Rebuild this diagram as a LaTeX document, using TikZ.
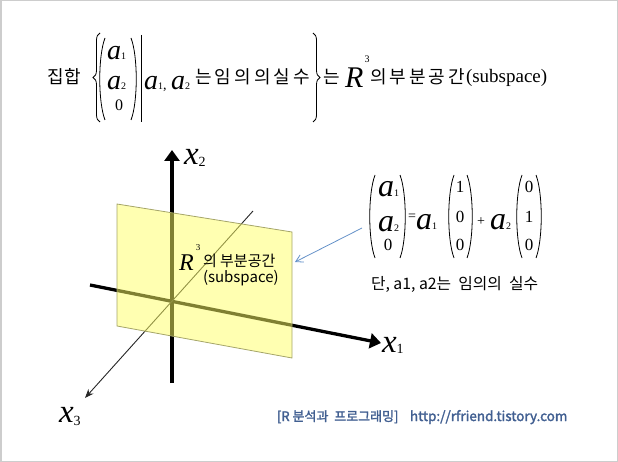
\documentclass[tikz,border=0pt]{standalone}
\usepackage{fontspec}
\setmainfont{Liberation Serif}
\newfontfamily\kr{Noto Sans CJK KR}
\newfontfamily\krb[FakeBold=2]{Noto Sans CJK KR}
\usetikzlibrary{arrows.meta,decorations.pathreplacing}
\definecolor{planefill}{RGB}{255,255,100}
\definecolor{planeedge}{RGB}{165,165,105}
\definecolor{arrowblue}{RGB}{100,145,200}
\definecolor{footblue}{RGB}{65,95,145}
\definecolor{framegray}{RGB}{205,205,205}
\newcommand\fs[1]{\fontsize{#1}{#1}\selectfont}
\newcommand\sub[1]{{\upshape\fs{10}#1}}
\newcommand\mylpar[3]{\draw[delim] ({#1+7},#2) .. controls (#1,{#2+0.22*(#3-#2)}) and (#1,{#3-0.22*(#3-#2)}) .. ({#1+7},#3);}
\newcommand\myrpar[3]{\draw[delim] (#1,#2) .. controls ({#1+7},{#2+0.22*(#3-#2)}) and ({#1+7},{#3-0.22*(#3-#2)}) .. (#1,#3);}
\begin{document}
\begin{tikzpicture}[x=1pt,y=-1pt,
  txt/.style={inner sep=0pt,outer sep=0pt},
  krtitle/.style={txt,font=\kr\fs{18}},
  var/.style={txt,font=\itshape\fs{28}},
  bigvar/.style={txt,font=\itshape\fs{32}},
  axislabel/.style={txt,font=\itshape\fs{33}},
  num/.style={txt,font=\fs{17}},
  delim/.style={line width=0.8pt},
  thickaxis/.style={line width=3.3pt,-{Triangle[width=15pt,length=11pt]}},
  plane/.style={fill=planefill,fill opacity=0.5},
  planeborder/.style={draw=planeedge,line width=0.8pt},
  krnote/.style={txt,font=\kr\fs{15}},
  foot/.style={txt,font=\krb\fs{13},text=footblue}]
\useasboundingbox (0,0) rectangle (618,462);
\draw[framegray,line width=1.5pt] (0.75,0.75) rectangle (617.25,461.25);

% ---------- title ----------
\node[krtitle,anchor=base west] (t1) at (47,84) {\makebox[34pt][s]{집\hfil 합}};
\draw[delim,decorate,decoration={brace,amplitude=7pt}] (100,122) -- (100,33);
\mylpar{98}{38}{120}
\node[var,anchor=base west] (ta1) at (107,60) {a\sub{1}};
\node[var,anchor=base west] (ta2) at (107,90) {a\sub{2}};
\node[txt,font=\fs{16},anchor=base] (t0) at (119,111) {0};
\myrpar{131}{38}{120}
\draw[delim] (141,35) -- (141,122);
\node[var,anchor=base west] (tcond) at (144,90) {a\sub{1}{\upshape\fs{14},}\,a\sub{2}};
\node[krtitle,anchor=base west] (t2) at (195,84) {\makebox[115pt][s]{는\hfil 임\hfil 의\hfil 의\hfil 실\hfil 수}};
\draw[delim,decorate,decoration={brace,amplitude=7pt}] (313,33) -- (313,122);
\node[krtitle,anchor=base west] (t3) at (323,84) {는};
\node[txt,font=\itshape\fs{30},anchor=base west] (tR) at (345,88) {R};
\node[txt,font=\fs{10}] (tR3) at (367,59) {3};
\node[krtitle,anchor=base west] (t4) at (370,84) {\makebox[95pt][s]{의\hfil 부\hfil 분\hfil 공\hfil 간}};
\node[txt,font=\fs{19},anchor=base west] (t5) at (466,83) {(subspace)};

% ---------- axes and plane ----------
\coordinate (O) at (172,301);
\coordinate (x2bot) at (172,383);
\coordinate (x2top) at (172,150);
\coordinate (x1left) at (90,285);
\coordinate (x1right) at (381,343);
\coordinate (x3far) at (253,211);
\coordinate (x3near) at (85,398);
\coordinate (p1) at (117,204);
\coordinate (p2) at (292,232);
\coordinate (p3) at (292,358);
\coordinate (p4) at (117,326);
\draw[thickaxis] (x2bot) -- (x2top);
\draw[thickaxis] (x1left) -- (x1right);
\draw[line width=0.9pt,black!85,-{Stealth[length=9pt,width=7pt]}] (x3far) -- (x3near);
\fill[plane] (p1) -- (p2) -- (p3) -- (p4) -- cycle;
\draw[planeborder] (p1) -- (p2) -- (p3) -- (p4) -- cycle;

\node[axislabel,anchor=base west] (lx2) at (184,165) {x\raisebox{-2pt}{\upshape\fs{14}2}};
\node[axislabel,anchor=base west] (lx1) at (382,352) {x\raisebox{-1pt}{\upshape\fs{14}1}};
\node[axislabel,anchor=base west] (lx3) at (59,422) {x\raisebox{-3pt}{\upshape\fs{14}3}};

\node[txt,font=\itshape\fs{24},anchor=base west] (pR) at (179,270) {R};
\node[txt,font=\fs{9}] (pR3) at (198,248) {3};
\node[krnote,anchor=base west] (pl1) at (203,266) {의 부분공간};
\node[krnote,anchor=base west] (pl2) at (203,282) {(subspace)};

% ---------- equation ----------
\mylpar{368}{175}{258}
\node[bigvar,anchor=base west] (ea1) at (378,197) {a\sub{1}};
\node[bigvar,anchor=base west] (ea2) at (378,232) {a\sub{2}};
\node[num,anchor=base] (e0) at (388,251) {0};
\myrpar{400}{175}{258}
\node[txt,font=\fs{14}] (eq) at (412,217) {=};
\node[bigvar,anchor=base west] (ec1) at (416,230) {a\sub{1}};
\mylpar{447}{175}{258}
\node[num,anchor=base] (v11) at (460,193) {1};
\node[num,anchor=base] (v12) at (460,223) {0};
\node[num,anchor=base] (v13) at (460,251) {0};
\myrpar{467}{175}{258}
\node[txt,font=\fs{14}] (plus) at (481,222) {+};
\node[bigvar,anchor=base west] (ec2) at (490,230) {a\sub{2}};
\mylpar{515}{175}{258}
\node[num,anchor=base] (v21) at (529,193) {0};
\node[num,anchor=base] (v22) at (529,223) {1};
\node[num,anchor=base] (v23) at (529,251) {0};
\myrpar{536}{175}{258}

\node[krnote,anchor=base west,font=\kr\fs{15.8}] (note) at (371,290) {단, a1, a2는\ \ 임의의\ \ 실수};

\coordinate (blueS) at (362,228);
\coordinate (blueE) at (295,262);
\draw[arrowblue,line width=0.8pt,-{Straight Barb[length=7pt,width=8pt]}] (blueS) -- (blueE);

% ---------- footer ----------
\node[foot,anchor=base west] (f1) at (277,421) {[R 분석과\ \ 프로그래밍]};
\node[foot,anchor=base west,font=\krb\fs{13.5}] (f2) at (410,421) {http://rfriend.tistory.com};
\end{tikzpicture}
\end{document}
